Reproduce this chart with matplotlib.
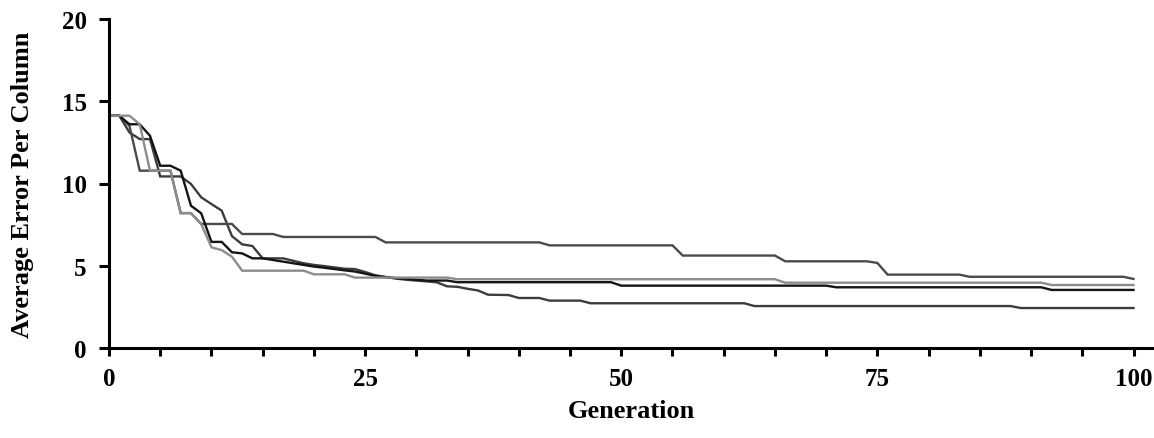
import matplotlib
matplotlib.use("Agg")
import matplotlib.pyplot as plt
from matplotlib.ticker import MultipleLocator

# Series: (generation, average error) change points
gen_a = [0, 1, 2, 3, 6, 7, 8, 9, 12, 13, 16, 17, 26, 27, 42, 43, 55, 56, 65, 66, 74, 75, 76, 83, 84, 99, 100]
val_a = [14.12, 14.12, 13.5, 10.78, 10.78, 8.2, 8.2, 7.54, 7.54, 6.93, 6.93, 6.75, 6.75, 6.42, 6.42, 6.24, 6.24, 5.62, 5.62, 5.27, 5.27, 5.17, 4.46, 4.46, 4.33, 4.33, 4.2]

gen_b = [0, 2, 3, 4, 6, 7, 8, 9, 10, 11, 12, 13, 19, 20, 23, 24, 33, 34, 65, 66, 91, 92, 100]
val_b = [14.12, 14.12, 13.6, 10.78, 10.78, 8.2, 8.2, 7.54, 6.12, 5.95, 5.55, 4.7, 4.7, 4.48, 4.48, 4.28, 4.28, 4.18, 4.18, 3.97, 3.97, 3.83, 3.83]

gen_c = [0, 1, 2, 3, 4, 5, 6, 7, 8, 9, 10, 11, 12, 13, 14, 15, 16, 17, 18, 19, 20, 21, 22, 23, 24, 25, 26, 27, 28, 29, 30, 31, 33, 34, 49, 50, 70, 71, 91, 92, 100]
val_c = [14.12, 14.12, 13.6, 13.6, 12.9, 11.08, 11.08, 10.78, 8.65, 8.19, 6.45, 6.45, 5.82, 5.75, 5.45, 5.45, 5.35, 5.25, 5.15, 5.05, 4.95, 4.88, 4.8, 4.72, 4.65, 4.52, 4.38, 4.3, 4.25, 4.2, 4.15, 4.1, 4.1, 4.0, 4.0, 3.79, 3.79, 3.69, 3.69, 3.53, 3.53]

gen_d = [0, 1, 2, 3, 4, 5, 7, 8, 9, 10, 11, 12, 13, 14, 15, 17, 18, 19, 20, 21, 22, 23, 24, 25, 26, 27, 28, 29, 30, 31, 32, 33, 34, 35, 36, 37, 39, 40, 42, 43, 46, 47, 62, 63, 88, 89, 100]
val_d = [14.12, 14.12, 13.1, 12.7, 12.7, 10.43, 10.43, 9.97, 9.16, 8.75, 8.35, 6.8, 6.3, 6.2, 5.45, 5.45, 5.3, 5.15, 5.05, 4.98, 4.9, 4.82, 4.8, 4.62, 4.42, 4.32, 4.22, 4.15, 4.1, 4.05, 3.99, 3.75, 3.72, 3.6, 3.5, 3.24, 3.22, 3.04, 3.04, 2.88, 2.88, 2.72, 2.72, 2.55, 2.55, 2.43, 2.43]

x_ticks = [0, 25, 50, 75, 100]
y_ticks = [0, 5, 10, 15, 20]

plt.rcParams['font.family'] = ['Liberation Serif', 'DejaVu Serif']
plt.rcParams['font.weight'] = 'bold'

fig = plt.figure(figsize=(11.54, 4.39), dpi=100)
ax = fig.add_axes([109 / 1154, 90 / 439, 1045 / 1154, 329 / 439])

ax.plot(gen_d, val_d, color='#3c3c3c', lw=1.7, solid_joinstyle='miter')
ax.plot(gen_a, val_a, color='#4a4a4a', lw=1.7, solid_joinstyle='miter')
ax.plot(gen_c, val_c, color='#141414', lw=1.7, solid_joinstyle='miter')
ax.plot(gen_b, val_b, color='#8c8c8c', lw=1.7, solid_joinstyle='miter')

ax.set_xlim(0, 102)
ax.set_ylim(0, 20)
ax.set_xticks(x_ticks)
ax.set_yticks(y_ticks)
ax.xaxis.set_minor_locator(MultipleLocator(5))

for s in ['top', 'right']:
    ax.spines[s].set_visible(False)
for s in ['left', 'bottom']:
    ax.spines[s].set_linewidth(2.2)

ax.tick_params(axis='both', which='both', direction='out', width=2.2, labelsize=18, colors='black')
ax.tick_params(axis='x', which='major', length=6, pad=8)
ax.tick_params(axis='x', which='minor', length=6)
ax.tick_params(axis='y', which='major', length=7, pad=9)

for lab in ax.get_xticklabels() + ax.get_yticklabels():
    lab.set_fontweight('bold')

ax.set_xlabel('Generation', fontsize=19, fontweight='bold', labelpad=6)
ax.set_ylabel('Average Error Per Column', fontsize=19, fontweight='bold', labelpad=20)

fig.savefig('out.png', dpi=100)
